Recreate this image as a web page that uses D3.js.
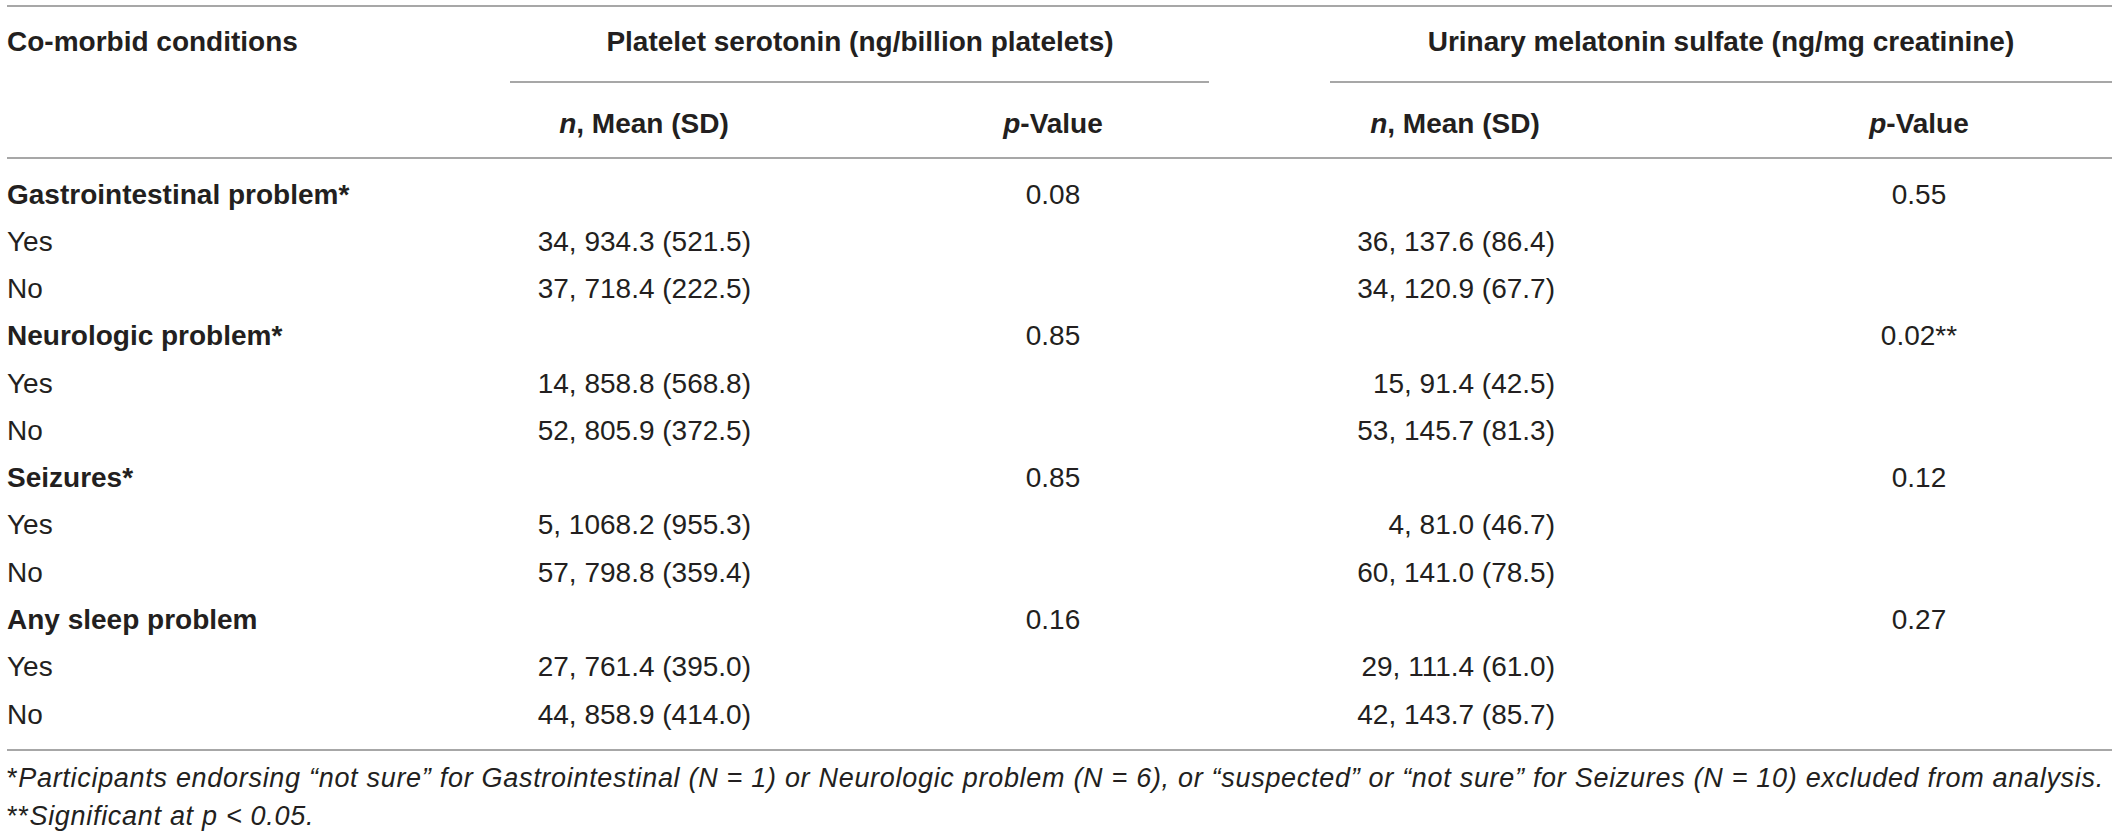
<!DOCTYPE html>
<html>
<head>
<meta charset="utf-8">
<script src="https://cdn.jsdelivr.net/npm/d3@7"></script>
<style>
  body { margin: 0; background: #fff; }
  text { font-family: "Liberation Sans", Arial, Helvetica, sans-serif; fill: #231f20; }
</style>
</head>
<body>
<div id="chart"></div>
<script>
// table data
const conditions = ["Gastrointestinal problem*", "Neurologic problem*", "Seizures*", "Any sleep problem"];
const groups = ["Yes", "No"];

// platelet serotonin: [n, mean, sd] for Yes / No
const serotoninYes = [[34, 934.3, 521.5], [14, 858.8, 568.8], [5, 1068.2, 955.3], [27, 761.4, 395.0]];
const serotoninNo  = [[37, 718.4, 222.5], [52, 805.9, 372.5], [57, 798.8, 359.4], [44, 858.9, 414.0]];
const serotoninP   = ["0.08", "0.85", "0.85", "0.16"];

// urinary melatonin sulfate: [n, mean, sd] for Yes / No
const melatoninYes = [[36, 137.6, 86.4], [15, 91.4, 42.5], [4, 81.0, 46.7], [29, 111.4, 61.0]];
const melatoninNo  = [[34, 120.9, 67.7], [53, 145.7, 81.3], [60, 141.0, 78.5], [42, 143.7, 85.7]];
const melatoninP   = ["0.55", "0.02**", "0.12", "0.27"];

const groupHeaders = ["Platelet serotonin (ng/billion platelets)", "Urinary melatonin sulfate (ng/mg creatinine)"];

// size
const width = 2118, height = 836;
const fontSize = 28;
const lineColor = "#8a8a8a";

const svg = d3.select("#chart")
  .append("svg")
  .attr("width", width)
  .attr("height", height);

// build the rows (condition header row then Yes / No)
const rows = [];
conditions.forEach((c, i) => {
  rows.push({ label: c, bold: true, serP: serotoninP[i], melP: melatoninP[i] });
  rows.push({ label: groups[0], ser: serotoninYes[i], mel: melatoninYes[i] });
  rows.push({ label: groups[1], ser: serotoninNo[i], mel: melatoninNo[i] });
});

const f1 = d3.format(".1f");
const cell = d => `${d[0]}, ${f1(d[1])} (${f1(d[2])})`;

// scales
const y = d3.scaleLinear().domain([0, rows.length - 1]).range([194, 714]);
const x = d3.scaleOrdinal()
  .domain(["label", "serN", "serP", "melN", "melP"])
  .range([7, 751, 1053, 1555, 1919]);

// rules
const rule = (x1, x2, yy) => svg.append("line")
  .attr("x1", x1).attr("x2", x2).attr("y1", yy).attr("y2", yy)
  .attr("stroke", lineColor).attr("stroke-width", 1.6);

rule(7, 2112, 6);
rule(510, 1209, 82);
rule(1330, 2112, 82);
rule(7, 2112, 158);
rule(7, 2112, 750);

// header row
svg.append("text")
  .attr("x", x("label")).attr("y", 41)
  .attr("dominant-baseline", "central")
  .attr("font-size", fontSize).attr("font-weight", "bold")
  .text("Co-morbid conditions");

svg.selectAll(".ghead")
  .data(groupHeaders)
  .enter()
  .append("text")
  .attr("class", "ghead")
  .attr("x", (d, i) => i === 0 ? 860 : 1721)
  .attr("y", 41)
  .attr("text-anchor", "middle")
  .attr("dominant-baseline", "central")
  .attr("font-size", fontSize).attr("font-weight", "bold")
  .text(d => d);

// sub header
const subs = [
  { x: 644, a: "n", b: ", Mean (SD)" },
  { x: x("serP"), a: "p", b: "-Value" },
  { x: 1455, a: "n", b: ", Mean (SD)" },
  { x: x("melP"), a: "p", b: "-Value" }
];
const sub = svg.selectAll(".sub")
  .data(subs)
  .enter()
  .append("text")
  .attr("class", "sub")
  .attr("x", d => d.x).attr("y", 123)
  .attr("text-anchor", "middle")
  .attr("dominant-baseline", "central")
  .attr("font-size", fontSize).attr("font-weight", "bold");
sub.append("tspan").attr("font-style", "italic").text(d => d.a);
sub.append("tspan").text(d => d.b);

// body
const body = svg.selectAll(".row")
  .data(rows)
  .enter()
  .append("g")
  .attr("class", "row")
  .attr("transform", (d, i) => `translate(0,${y(i)})`);

body.append("text")
  .attr("x", x("label"))
  .attr("dominant-baseline", "central")
  .attr("font-size", fontSize)
  .attr("font-weight", d => d.bold ? "bold" : "normal")
  .text(d => d.label);

body.filter(d => d.ser).append("text")
  .attr("x", x("serN"))
  .attr("text-anchor", "end")
  .attr("dominant-baseline", "central")
  .attr("font-size", fontSize)
  .text(d => cell(d.ser));

body.filter(d => d.mel).append("text")
  .attr("x", x("melN"))
  .attr("text-anchor", "end")
  .attr("dominant-baseline", "central")
  .attr("font-size", fontSize)
  .text(d => cell(d.mel));

body.filter(d => d.serP).append("text")
  .attr("x", x("serP"))
  .attr("text-anchor", "middle")
  .attr("dominant-baseline", "central")
  .attr("font-size", fontSize)
  .text(d => d.serP);

body.filter(d => d.melP).append("text")
  .attr("x", x("melP"))
  .attr("text-anchor", "middle")
  .attr("dominant-baseline", "central")
  .attr("font-size", fontSize)
  .text(d => d.melP);

// footnotes
const note1 = svg.append("text")
  .attr("x", 7).attr("y", 778)
  .attr("dominant-baseline", "central")
  .attr("font-size", 27)
  .attr("letter-spacing", 0.7);
note1.append("tspan").text("*");
note1.append("tspan").attr("font-style", "italic")
  .text("Participants endorsing \u201cnot sure\u201d for Gastrointestinal (N = 1) or Neurologic problem (N = 6), or \u201csuspected\u201d or \u201cnot sure\u201d for Seizures (N = 10) excluded from analysis.");

const note2 = svg.append("text")
  .attr("x", 7).attr("y", 816)
  .attr("dominant-baseline", "central")
  .attr("font-size", 27)
  .attr("letter-spacing", 0.7);
note2.append("tspan").text("**");
note2.append("tspan").attr("font-style", "italic").text("Significant at p < 0.05.");
</script>
</body>
</html>
